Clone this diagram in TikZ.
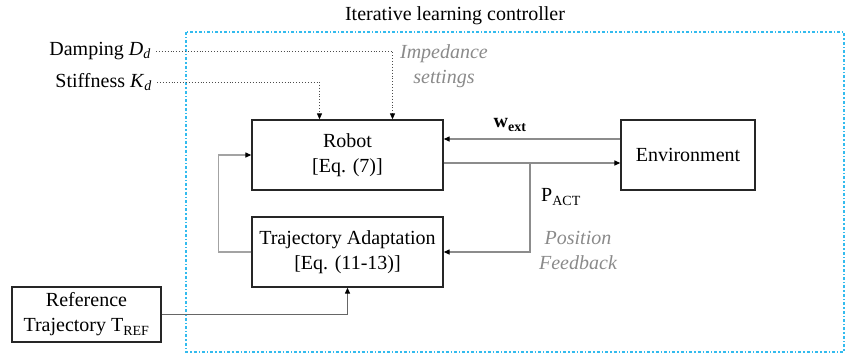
\documentclass[tikz,border=0pt]{standalone}
\usepackage{fontspec}
\setmainfont{Liberation Serif}
\usetikzlibrary{arrows.meta}
\definecolor{ctrlblue}{HTML}{33BBEE}
\definecolor{siggray}{HTML}{8C8C8C}
\definecolor{labgray}{HTML}{8A8A8A}
\begin{document}
\begin{tikzpicture}[
    x=1pt, y=-1pt,
    font=\fontsize{20}{25}\selectfont,
    block/.style={draw=black!85, line width=1.3pt, align=center, minimum height=70pt},
    sig/.style={draw=siggray, line width=1.2pt, -{Triangle[length=6pt,width=5pt,color=black,fill=black]}},
    imp/.style={draw=black!70, line width=0.9pt, dotted, -{Triangle[length=6pt,width=5pt,color=black,fill=black]}},
    note/.style={text=labgray, font=\fontsize{20}{25}\selectfont\itshape, align=center}
]
    \useasboundingbox (0,0) rectangle (846,354);

    % Controller frame
    \draw[ctrlblue, line width=1.4pt, dash dot] (186,32) rectangle (844,352);
    \node (title) at (455,16) {Iterative learning controller};

    % Blocks
    \node[block, minimum width=191pt] (robot) at (347.5,155) {Robot\\{}[Eq. (7)]};
    \node[block, minimum width=191pt] (traj) at (347.5,252) {Trajectory Adaptation\\{}[Eq. (11-13)]};
    \node[block, minimum width=134pt] (env) at (688,155) {Environment};
    \node[block, minimum width=149pt, minimum height=55pt] (ref) at (86.5,314.5) {Reference\\Trajectory T\textsubscript{REF}};

    % Impedance inputs
    \node[anchor=east, inner sep=5pt] (damp) at (156,51) {Damping \textit{D}\textsubscript{\textit{d}}};
    \node[anchor=east, inner sep=5pt] (stiff) at (157,82) {Stiffness \textit{K}\textsubscript{\textit{d}}};
    \draw[imp] (damp.east) -| ([xshift=45pt]robot.north);
    \draw[imp] (stiff.east) -| ([xshift=-28pt]robot.north);
    \node[note] (impset) at (444,66) {Impedance\\settings};

    % Robot <-> environment
    \draw[sig] ([yshift=16pt]env.west) -- ([yshift=16pt]robot.east);
    \draw[sig] ([yshift=-8pt]robot.east) -- ([yshift=-8pt]env.west);
    \node (wext) at (510,125) {\textbf{w}\textsubscript{\textbf{ext}}};

    % Position feedback
    \coordinate (br) at (530,163);
    \draw[sig] (br) |- (traj.east);
    \node (pact) at (561,197) {P\textsubscript{ACT}};
    \node[note] (posfb) at (578,250) {Position\\Feedback};

    % Adapted trajectory to robot
    \draw[sig, draw=siggray!80] (traj.west) -- ++(-33,0) |- (robot.west);

    % Reference trajectory
    \draw[sig, draw=black!60] (ref.east) -| (traj.south);
\end{tikzpicture}
\end{document}
